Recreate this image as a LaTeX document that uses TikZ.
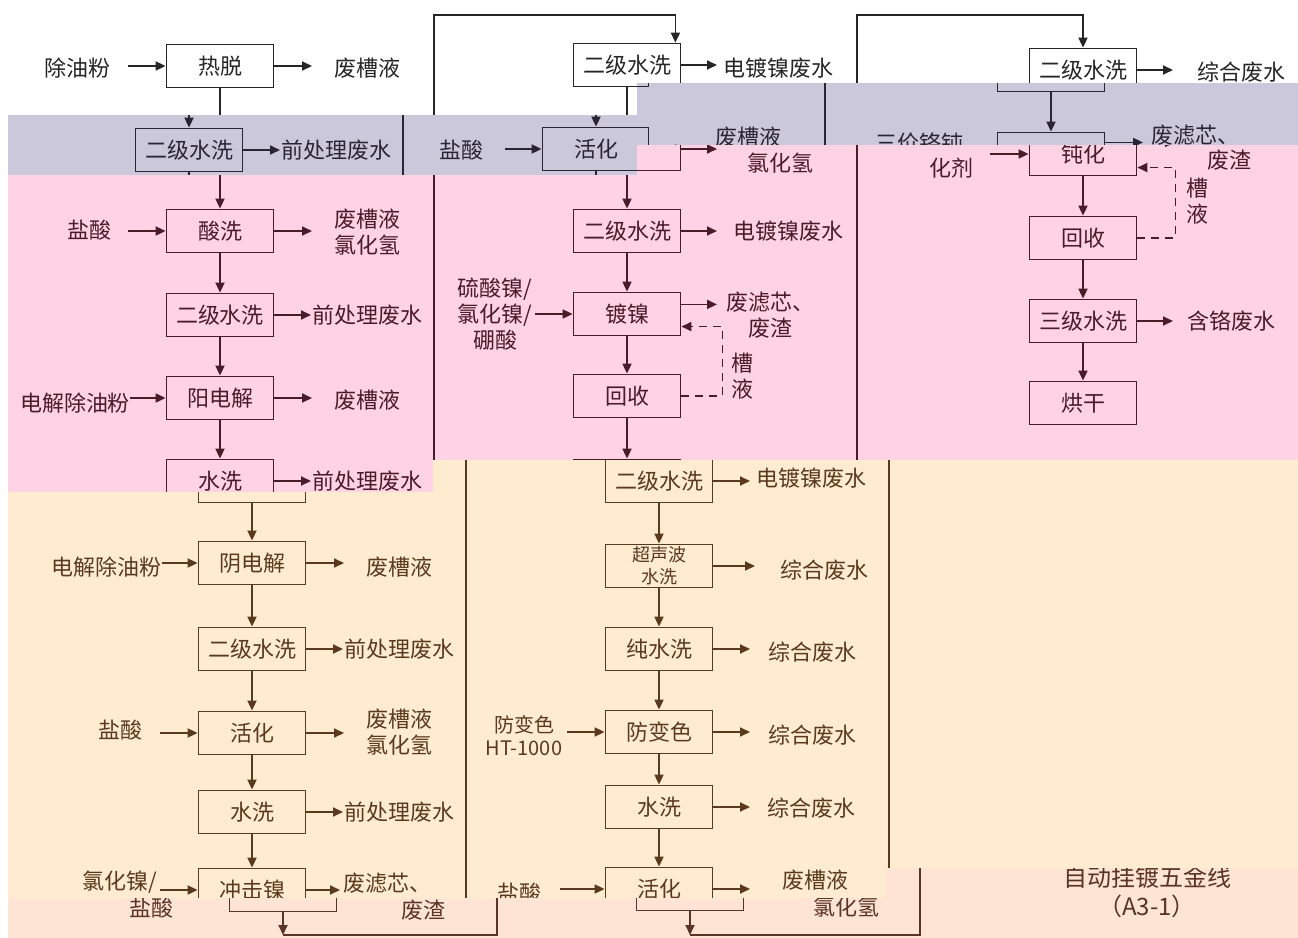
\documentclass[tikz,border=0pt]{standalone}
\usepackage{fontspec}
\setmainfont{Noto Sans CJK SC}
\usetikzlibrary{arrows.meta}

\definecolor{lavbg}{HTML}{CCC8DC}
\definecolor{pinkbg}{HTML}{FFD2E4}
\definecolor{creambg}{HTML}{FFECD0}
\definecolor{peachbg}{HTML}{FDE4D4}
\definecolor{inkwhite}{HTML}{262626}
\definecolor{inklav}{HTML}{2A2535}
\definecolor{inkpink}{HTML}{4A1C2A}
\definecolor{inkcream}{HTML}{5A3A1E}
\definecolor{inkpeach}{HTML}{5A3426}

\tikzset{
    proc/.style={draw, line width=0.9pt, minimum width=53.5pt, minimum height=21.5pt, inner sep=1pt},
    boxtext/.style={align=center, inner sep=0pt},
    wst/.style={align=center, inner sep=1pt},
    flow/.style={line width=0.9pt, -{Triangle[length=5pt,width=4.5pt]}},
    ret/.style={flow, dash pattern=on 4pt off 3pt},
    tinytext/.style={font=\fontsize{9}{11}\selectfont},
    midtext/.style={font=\fontsize{10}{11.5}\selectfont}
}
% a text is set only in the band (#) where the page shows it
\newcommand{\procBox}[6][] {
	\node[proc] (#2) at (#3,#4) {};
	\ifnum\bandid=#5\relax \node[boxtext,#1] (#2t) at (#2) {#6}; \fi
}
\newcommand{\feedIn}[8][] {
	\coordinate (#3s) at (#2 -| #6,0);
	\draw[flow] (#3s) -- (#2);
	\ifnum\bandid=#7\relax \node[wst,#1] (#3) at (#4,#5) {#8}; \fi
}
\newcommand{\wasteOut}[7] {
	\coordinate (#2e) at (#1 -| #5,0);
	\draw[flow] (#1) -- (#2e);
	\ifnum\bandid=#6\relax \node[wst] (#2) at (#3,#4) {#7}; \fi
}
\newcommand{\tagText}[5] {
	\ifnum\bandid=#4\relax \node[wst] (#1) at (#2,#3) {#5}; \fi
}
\newcommand{\platingLine} {
	% Left column
	\procBox{l1}{220}{66}{1}{热脱}
	\procBox{l2}{220}{150}{2}{二级水洗}
	\procBox{l3}{220}{231}{4}{酸洗}
	\procBox{l4}{220}{315}{4}{二级水洗}
	\procBox{l5}{220}{398}{4}{阳电解}
	\procBox{l6}{220}{481}{4}{水洗}
	\procBox{l7}{220}{563}{5}{阴电解}
	\procBox{l8}{220}{649}{5}{二级水洗}
	\procBox{l9}{220}{733}{5}{活化}
	\procBox{l10}{220}{812}{5}{水洗}
	\procBox{l11}{220}{890}{5}{冲击镍}
	\foreach \j [remember=\j as \i (initially 1)] in {2,...,11} { \draw[flow] (l\i) -- (l\j); }

	\feedIn{l1.west}{li1}{78}{68}{128}{1}{除油粉}
	\feedIn{l3.west}{li3}{90}{230}{128}{4}{盐酸}
	\feedIn{l5.west}{li5}{75}{403}{130}{4}{电解除油粉}
	\feedIn{l7.west}{li7}{75}{567}{130}{5}{电解除油粉}
	\feedIn{l9.west}{li9}{88}{730}{128}{5}{盐酸}
	\feedIn{l11.west}{li11}{88}{882}{128}{5}{氯化镍/}
	\tagText{li11b}{88}{908}{6}{盐酸}

	\wasteOut{l1.east}{lo1}{367}{68}{312}{1}{废槽液}
	\wasteOut{l2.east}{lo2}{367}{150}{311}{2}{前处理废水}
	\wasteOut{l3.east}{lo3}{367}{232}{312}{4}{废槽液\\氯化氢}
	\wasteOut{l4.east}{lo4}{367}{315}{311}{4}{前处理废水}
	\wasteOut{l5.east}{lo5}{367}{400}{312}{4}{废槽液}
	\wasteOut{l6.east}{lo6}{367}{481}{311}{4}{前处理废水}
	\wasteOut{l7.east}{lo7}{367}{567}{312}{5}{废槽液}
	\wasteOut{l8.east}{lo8}{367}{649}{311}{5}{前处理废水}
	\wasteOut{l9.east}{lo9}{367}{732}{312}{5}{废槽液\\氯化氢}
	\wasteOut{l10.east}{lo10}{367}{812}{311}{5}{前处理废水}
	\wasteOut{l11.east}{lo11}{355}{883}{308}{5}{废滤芯、}
	\tagText{lo11b}{360}{910}{6}{废渣}

	% Middle column
	\procBox{m1}{627}{65}{1}{二级水洗}
	\procBox{m2}{627}{149}{2}{活化}
	\procBox{m3}{627}{231}{4}{二级水洗}
	\procBox{m4}{627}{314}{4}{镀镍}
	\procBox{m5}{627}{396}{4}{回收}
	\procBox{m6}{627}{481}{5}{二级水洗}
	\procBox[tinytext]{m7}{627}{566}{5}{超声波\\水洗}
	\procBox{m8}{627}{649}{5}{纯水洗}
	\procBox{m9}{627}{732}{5}{防变色}
	\procBox{m10}{627}{807}{5}{水洗}
	\procBox{m11}{627}{889}{5}{活化}
	\foreach \j [remember=\j as \i (initially 1)] in {2,...,11} { \draw[flow] (m\i) -- (m\j); }

	\feedIn{m2.west}{mi2}{492}{150}{536}{2}{盐酸}
	\feedIn{m4.west}{mi4}{495}{314}{535}{4}{硫酸镍/\\氯化镍/\\硼酸}
	\feedIn[midtext]{m9.west}{mi9}{492}{736}{535}{5}{防变色\\HT-1000}
	\feedIn{m11.west}{mi11}{487}{893}{528}{5}{盐酸}

	\wasteOut{m1.east}{mo1}{778}{68}{717}{1}{电镀镍废水}
	\wasteOut{m2.east}{mo2}{780}{137}{717}{3}{废槽液}
	\tagText{mo2b}{780}{163}{4}{氯化氢}
	\wasteOut{m3.east}{mo3}{788}{231}{717}{4}{电镀镍废水}
	\wasteOut{m4.10}{mo4}{770}{315}{717}{4}{废滤芯、\\废渣}
	\wasteOut{m6.east}{mo6}{779}{478}{718}{5}{电镀镍废水}
	\wasteOut{m7.east}{mo7}{792}{570}{723}{5}{综合废水}
	\wasteOut{m8.east}{mo8}{780}{652}{718}{5}{综合废水}
	\wasteOut{m9.east}{mo9}{780}{735}{718}{5}{综合废水}
	\wasteOut{m10.east}{mo10}{779}{808}{718}{5}{综合废水}
	\wasteOut{m11.east}{mo11}{783}{880}{718}{5}{废槽液}
	\tagText{mo11b}{783}{907}{6}{氯化氢}

	\draw[ret] (m5.east) -- ++(41,0) |- (m4.-13);
	\tagText{md}{742}{376}{4}{槽\\液}

	% Right column
	\procBox{r1}{1083}{70}{1}{二级水洗}
	\procBox{r2}{1083}{154}{4}{钝化}
	\procBox{r3}{1083}{238}{4}{回收}
	\procBox{r4}{1083}{321}{4}{三级水洗}
	\procBox{r5}{1083}{403}{4}{烘干}
	\foreach \j [remember=\j as \i (initially 1)] in {2,...,5} { \draw[flow] (r\i) -- (r\j); }

	\feedIn{r2.west}{ri2}{951}{143}{990}{3}{三价铬钝}
	\tagText{ri2b}{951}{168}{4}{化剂}

	\wasteOut{r1.east}{ro1}{1241}{72}{1173}{1}{综合废水}
	\wasteOut{r2.12}{ro2}{1227}{135}{1175}{3}{废滤芯、}
	\tagText{ro2b}{1229}{160}{4}{废渣}
	\wasteOut{r4.east}{ro4}{1231}{321}{1173}{4}{含铬废水}

	\draw[ret] (r3.east) -- ++(38,0) |- (r2.-14);
	\tagText{rd}{1197}{201}{4}{槽\\液}

	% Loops back to the top
	\coordinate (lb) at (434,935);
	\coordinate (lt) at (434,15);
	\coordinate (mb) at (857,935);
	\coordinate (mt) at (857,15);
	\draw[flow] (l11.south) -- (l11.south |- lb);
	\draw[flow] (l11.south |- lb) -- (lb) -- (lt) -| ([xshift=-3pt]m1.north east);
	\draw[flow] (m11.south) -- (m11.south |- mb);
	\draw[flow] (m11.south |- mb) -- (mb) -- (mt) -| (r1.north);

	\ifnum\bandid=6\relax
		\node[align=center, font=\fontsize{12}{14.5}\selectfont] (title) at (1084,892) {自动挂镀五金线\\（A3-1）};
	\fi
}
% one band of the page: id, fill colour, ink colour, x offset, outline
\newcommand{\band}[5] {
	\begin{scope}
		\def\bandid{#1}
		\clip #5;
		\fill[#2] #5;
		\begin{scope}[shift={(#4,0)}, color=#3]
			\platingLine
		\end{scope}
	\end{scope}
}

\begin{document}
\begin{tikzpicture}[x=0.5pt, y=-0.5pt, font=\fontsize{11}{13}\selectfont]
	\useasboundingbox (0,0) rectangle (1298,938);
	\fill[white] (0,0) rectangle (1298,938);

	\band{1}{white}{inkwhite}{0}{(0,0) -- (1298,0) -- (1298,83) -- (637,83) -- (637,115) -- (8,115) -- (8,938) -- (0,938) -- cycle}
	\band{2}{lavbg}{inklav}{-31}{(8,115) rectangle (637,175)}
	\band{3}{lavbg}{inklav}{-32}{(637,83) rectangle (1298,145)}
	\band{4}{pinkbg}{inkpink}{0}{(8,175) -- (637,175) -- (637,145) -- (1298,145) -- (1298,460) -- (433,460) -- (433,492) -- (8,492) -- cycle}
	\band{5}{creambg}{inkcream}{32}{(8,492) -- (433,492) -- (433,460) -- (1298,460) -- (1298,868) -- (885,868) -- (885,898) -- (8,898) -- cycle}
	\band{6}{peachbg}{inkpeach}{63}{(8,898) -- (885,898) -- (885,868) -- (1298,868) -- (1298,938) -- (8,938) -- cycle}
\end{tikzpicture}
\end{document}
